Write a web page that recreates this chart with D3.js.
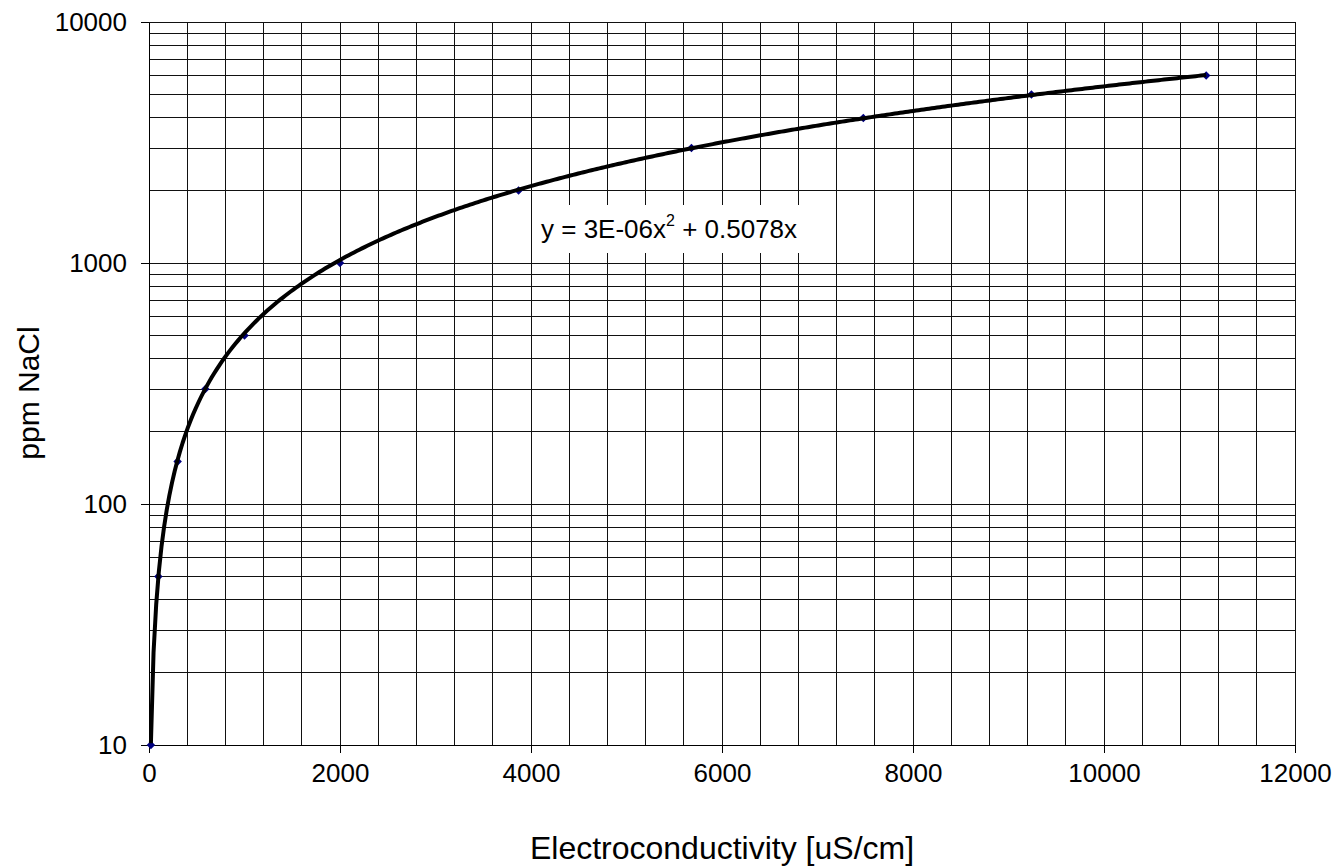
<!DOCTYPE html>
<html>
<head>
<meta charset="utf-8">
<script src="https://cdn.jsdelivr.net/npm/d3@7"></script>
<style>
	body { margin: 0; background: #fff; }
	svg text { font-family: "Liberation Sans", Arial, sans-serif; fill: #000; }
</style>
</head>
<body>
<svg id="chart" width="1333" height="866"></svg>
<script>
/*jshint esversion: 6 */

// data
var ecValues = [20, 98, 300, 590, 1000, 2000, 3870, 5680, 7480, 9240, 11070];	// uS/cm
var ppmValues = [10, 50, 150, 300, 500, 1000, 2000, 3000, 4000, 5000, 6000];	// ppm NaCl
var xTickValues = [0, 2000, 4000, 6000, 8000, 10000, 12000];
var yTickValues = [10, 100, 1000, 10000];
var equationLabel = ["y = 3E-06x", "2", " + 0.5078x"];

var width = 1333,
	height = 866;
var margin = { top: 22, right: 38, bottom: 121, left: 149 };

var svg = d3.select("#chart");

var xScale = d3.scaleLinear()
	.domain([0, 12000])
	.range([margin.left, width - margin.right]);
var yScale = d3.scaleLog()
	.domain([10, 10000])
	.range([height - margin.bottom, margin.top]);


//************ GRID ************

var grid = svg.append("g").attr("class", "grid")
	.attr("stroke", "#111")
	.attr("stroke-width", 1)
	.attr("shape-rendering", "crispEdges");

grid.selectAll(".vline")
	.data(d3.range(0, 12001, 400))
	.enter().append("line")
	.attr("x1", d => xScale(d)).attr("x2", d => xScale(d))
	.attr("y1", yScale(10)).attr("y2", yScale(10000));

grid.selectAll(".hline")
	.data(yScale.ticks())
	.enter().append("line")
	.attr("x1", xScale(0)).attr("x2", xScale(12000))
	.attr("y1", d => yScale(d)).attr("y2", d => yScale(d));


//************ AXES ************

var xAxis = d3.axisBottom(xScale)
	.tickValues(xTickValues)
	.tickFormat(d3.format("d"))
	.tickSizeInner(8)
	.tickSizeOuter(0)
	.tickPadding(11);
svg.append("g")
	.attr("class", "x axis")
	.attr("transform", "translate(0," + yScale(10) + ")")
	.call(xAxis);

var yAxis = d3.axisLeft(yScale)
	.tickValues(yTickValues)
	.tickFormat(d3.format("d"))
	.tickSizeInner(8)
	.tickSizeOuter(0)
	.tickPadding(14);
svg.append("g")
	.attr("class", "y axis")
	.attr("transform", "translate(" + xScale(0) + ",0)")
	.call(yAxis);

svg.selectAll(".axis text").attr("font-size", 26);
svg.selectAll(".axis path, .axis line")
	.attr("stroke", "#000")
	.attr("shape-rendering", "crispEdges");


//************ TRENDLINE (poly order 2, through origin) ************

// least squares fit of y = a*x^2 + b*x on the points
var s4 = 0, s3 = 0, s2 = 0, s2y = 0, s1y = 0;
ecValues.forEach(function(x, i) {
	var y = ppmValues[i];
	s4 += x * x * x * x;
	s3 += x * x * x;
	s2 += x * x;
	s2y += x * x * y;
	s1y += x * y;
});
var det = s4 * s2 - s3 * s3;
var fitA = (s2y * s2 - s3 * s1y) / det;
var fitB = (s4 * s1y - s3 * s2y) / det;
console.log("fit", fitA, fitB);

var xExtent = d3.extent(ecValues);
var curve = d3.range(0, 401).map(function(i) {
	var x = xExtent[0] + (xExtent[1] - xExtent[0]) * i / 400;
	return [x, fitA * x * x + fitB * x];
});

// markers (drawn under the trendline)
svg.append("g").attr("class", "points")
	.selectAll("path")
	.data(ecValues)
	.enter().append("path")
	.attr("d", d3.symbol(d3.symbolSquare, 36))
	.attr("transform", (d, i) => "translate(" + xScale(d) + "," + yScale(ppmValues[i]) + ") rotate(45)")
	.attr("fill", "#000080");

svg.append("path")
	.datum(curve)
	.attr("fill", "none")
	.attr("stroke", "#000")
	.attr("stroke-width", 4)
	.attr("stroke-linejoin", "round")
	.attr("d", d3.line().x(d => xScale(d[0])).y(d => yScale(d[1])));


//************ EQUATION LABEL ************

var eq = svg.append("g").attr("class", "equation");
eq.append("rect")
	.attr("x", 532).attr("y", 205)
	.attr("width", 304).attr("height", 48)
	.attr("fill", "#fff");
var eqText = eq.append("text")
	.attr("x", 541).attr("y", 238)
	.attr("font-size", 26);
eqText.append("tspan").text(equationLabel[0]);
eqText.append("tspan").attr("dy", -12).attr("font-size", 16).text(equationLabel[1]);
eqText.append("tspan").attr("dy", 12).text(equationLabel[2]);


//************ TITLES ************

svg.append("text")
	.attr("x", (xScale(0) + xScale(12000)) / 2)
	.attr("y", 848)
	.attr("dy", "0.35em")
	.attr("text-anchor", "middle")
	.attr("font-size", 32)
	.text("Electroconductivity [uS/cm]");

svg.append("text")
	.attr("transform", "translate(28,393) rotate(-90)")
	.attr("dy", "0.35em")
	.attr("text-anchor", "middle")
	.attr("font-size", 30)
	.text("ppm NaCl");
</script>
</body>
</html>
